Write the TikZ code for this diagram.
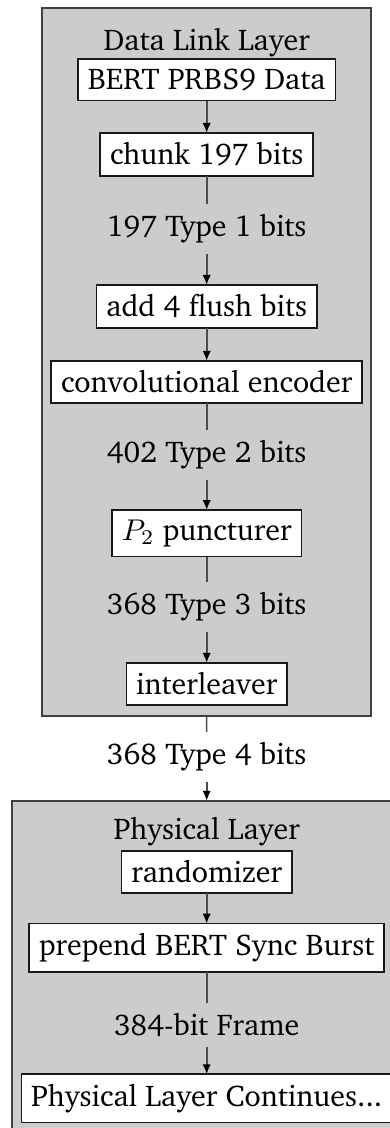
\documentclass[tikz,border=0pt]{standalone}
\usepackage[T1]{fontenc}
\usepackage{charter}
\usetikzlibrary{arrows.meta}

\tikzset{every picture/.style={line width=0.5pt}}
\tikzset{
  layerbox/.style={draw=black!75, fill=black!20, line width=0.65pt, outer sep=0pt},
  stagebox/.style={draw=black!90, fill=white, inner sep=3.3pt, outer sep=0pt},
  bitslabel/.style={inner sep=3.3pt},
  flow/.style={draw=black!70, line width=0.55pt, -{Latex[color=black,length=3.3pt,width=2.8pt]}},
  plainflow/.style={draw=black!70, line width=0.55pt},
}

\begin{document}
\begin{tikzpicture}[x=0.3333pt,y=0.3333pt,yscale=-1,xscale=1]
\clip (0,0) rectangle (390,1128);

%Shape: Rectangle [data link layer]
\draw (206.65,362) node[layerbox, minimum width=109.57pt, minimum height=235.8pt] (dll) {};
%Shape: Rectangle [physical layer]
\draw (206.7,966.2) node[layerbox, minimum width=130pt, minimum height=110.33pt] (phy) {};

% Text Node
\draw (206.7,43) node (dlltitle) {Data Link Layer};
% Text Node
\draw (206.7,79.7) node[stagebox] (bert) {BERT PRBS9 Data};
% Text Node
\draw (206.7,154.5) node[stagebox] (chunk) {chunk 197 bits};
% Text Node
\draw (206.7,229) node[bitslabel] (typeone) {197 Type 1 bits};
% Text Node
\draw (206.7,306.5) node[stagebox] (flush) {add 4 flush bits};
% Text Node
\draw (206.7,382) node[stagebox] (conv) {convolutional encoder};
% Text Node
\draw (206.7,455) node[bitslabel] (typetwo) {402 Type 2 bits};
% Text Node
\draw (206.7,533.3) node[stagebox] (punct) {$P_2$ puncturer};
% Text Node
\draw (206.7,607) node[bitslabel] (typethree) {368 Type 3 bits};
% Text Node
\draw (206.7,684) node[stagebox] (inter) {interleaver};
% Text Node
\draw (206.7,757) node[bitslabel] (typefour) {368 Type 4 bits};
% Text Node
\draw (206.7,831.7) node (phytitle) {Physical Layer};
% Text Node
\draw (206.7,872) node[stagebox] (rand) {randomizer};
% Text Node
\draw (206.7,947.7) node[stagebox] (sync) {prepend BERT Sync Burst};
% Text Node
\draw (206.7,1098.3) node[stagebox] (cont) {Physical Layer Continues...};
% Text Node
\draw (206.7,1025) node[bitslabel] (frame) {384-bit Frame};

%Straight Lines
\draw [flow] (bert) -- (chunk);
\draw [plainflow] (chunk) -- (typeone);
\draw [flow] (typeone) -- (flush);
\draw [flow] (flush) -- (conv);
\draw [plainflow] (conv) -- (typetwo);
\draw [flow] (typetwo) -- (punct);
\draw [plainflow] (punct) -- (typethree);
\draw [flow] (typethree) -- (inter);
\draw [plainflow] (dll.south) -- (typefour);
\draw [flow] (typefour) -- (phy.north);
\draw [flow] (rand) -- (sync);
\draw [plainflow] (sync) -- (frame);
\draw [flow] (frame) -- (cont);

\end{tikzpicture}
\end{document}
